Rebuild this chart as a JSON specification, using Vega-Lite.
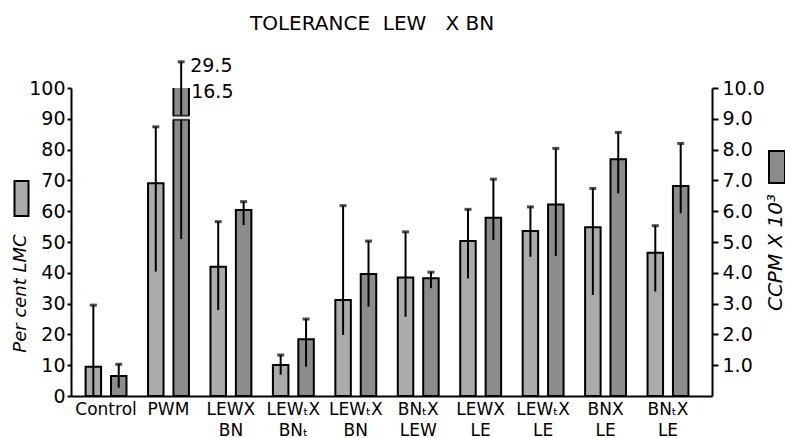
{
  "$schema": "https://vega.github.io/schema/vega-lite/v6.json",
  "width": 641,
  "height": 308,
  "autosize": {"type": "none"},
  "padding": {"left": 71, "top": 88, "right": 73, "bottom": 42},
  "background": "white",
  "title": {"text": "TOLERANCE\u00a0\u00a0LEW\u00a0\u00a0\u00a0X\u00a0BN", "anchor": "start", "frame": "group", "dx": 179, "offset": 23, "font": "DejaVu Sans", "fontSize": 20, "fontWeight": "normal", "color": "black"},
  "config": {
    "view": {"stroke": null},
    "axis": {"grid": false, "domainColor": "black", "domainWidth": 2, "tickColor": "black", "tickWidth": 2, "labelColor": "black", "labelFont": "DejaVu Sans", "labelFontSize": 19, "titleFont": "DejaVu Sans", "titleColor": "black", "titleFontWeight": "normal", "labelOverlap": false, "labelFlush": false}
  },
  "data": {"values": [
    {"g": "Control", "s": "LMC", "v": 9.5, "lo": 0, "hi": 29.5},
    {"g": "PWM", "s": "LMC", "v": 69.1, "lo": 40.4, "hi": 87.4},
    {"g": "LEWX|BN", "s": "LMC", "v": 42.0, "lo": 27.9, "hi": 56.6},
    {"g": "LEWₜX|BNₜ", "s": "LMC", "v": 10.1, "lo": 6.9, "hi": 13.3},
    {"g": "LEWₜX|BN", "s": "LMC", "v": 31.2, "lo": 19.8, "hi": 61.8},
    {"g": "BNₜX|LEW", "s": "LMC", "v": 38.5, "lo": 25.7, "hi": 53.3},
    {"g": "LEWX|LE", "s": "LMC", "v": 50.3, "lo": 38.2, "hi": 60.6},
    {"g": "LEWₜX|LE", "s": "LMC", "v": 53.6, "lo": 45.2, "hi": 61.4},
    {"g": "BNX|LE", "s": "LMC", "v": 54.8, "lo": 32.8, "hi": 67.4},
    {"g": "BNₜX|LE", "s": "LMC", "v": 46.5, "lo": 33.9, "hi": 55.3},
    {"g": "Control", "s": "CCPM", "v": 0.65, "lo": 0.27, "hi": 1.03},
    {"g": "PWM", "s": "CCPM", "v": 16.5, "lo": 5.1, "hi": 29.5},
    {"g": "LEWX|BN", "s": "CCPM", "v": 6.04, "lo": 5.55, "hi": 6.31},
    {"g": "LEWₜX|BNₜ", "s": "CCPM", "v": 1.84, "lo": 0.95, "hi": 2.5},
    {"g": "LEWₜX|BN", "s": "CCPM", "v": 3.96, "lo": 2.9, "hi": 5.03},
    {"g": "BNₜX|LEW", "s": "CCPM", "v": 3.82, "lo": 3.5, "hi": 4.02},
    {"g": "LEWX|LE", "s": "CCPM", "v": 5.79, "lo": 5.06, "hi": 7.04},
    {"g": "LEWₜX|LE", "s": "CCPM", "v": 6.22, "lo": 4.55, "hi": 8.04},
    {"g": "BNX|LE", "s": "CCPM", "v": 7.69, "lo": 6.58, "hi": 8.56},
    {"g": "BNₜX|LE", "s": "CCPM", "v": 6.82, "lo": 5.93, "hi": 8.2}
  ]},
  "encoding": {
    "x": {"field": "g", "type": "nominal", "sort": null,
      "scale": {"domain": ["Control", "PWM", "LEWX|BN", "LEWₜX|BNₜ", "LEWₜX|BN", "BNₜX|LEW", "LEWX|LE", "LEWₜX|LE", "BNX|LE", "BNₜX|LE"], "paddingInner": 0, "paddingOuter": 0.133, "align": 0.23},
      "axis": {"title": null, "labelAngle": 0, "ticks": false, "labelFontSize": 17, "labelExpr": "split(datum.label, '|')", "labelLineHeight": 21, "labelBaseline": "top", "labelPadding": 5}},
    "xOffset": {"field": "s", "type": "nominal", "scale": {"domain": ["LMC", "CCPM"], "paddingInner": 0.39, "paddingOuter": 0.424}}
  },
  "layer": [
    {"transform": [{"filter": "datum.s === 'LMC'"}],
     "mark": {"type": "bar", "stroke": "black", "strokeWidth": 2},
     "encoding": {
       "y": {"field": "v", "type": "quantitative", "scale": {"domain": [0, 100], "nice": false},
         "axis": {"orient": "left", "values": [0,10,20,30,40,50,60,70,80,90,100], "tickSize": 4, "labelPadding": 2, "title": "Per cent LMC", "titleFontStyle": "italic", "titleFontSize": 18, "titleAngle": -90, "titleX": -51, "titleY": 205, "titleAlign": "center", "titleBaseline": "middle"}},
       "fill": {"field": "s", "type": "nominal", "scale": {"domain": ["LMC"], "range": ["#ababab"]},
         "legend": {"orient": "none", "legendX": -68, "legendY": 92, "title": null, "labelExpr": "''", "symbolType": "M-0.4,-1H0.4V1H-0.4Z", "symbolSize": 1225, "symbolStrokeColor": "black", "symbolStrokeWidth": 2, "symbolOpacity": 1, "padding": 0}}
     }},
    {"transform": [{"filter": "datum.s === 'LMC'"}],
     "mark": {"type": "rule", "strokeWidth": 2, "color": "black"},
     "encoding": {"y": {"field": "lo", "type": "quantitative", "scale": {"domain": [0, 100], "nice": false}, "axis": null}, "y2": {"field": "hi"}}},
    {"transform": [{"filter": "datum.s === 'LMC'"}],
     "mark": {"type": "tick", "thickness": 3, "size": 7, "color": "black"},
     "encoding": {"y": {"field": "hi", "type": "quantitative", "scale": {"domain": [0, 100], "nice": false}, "axis": null}}},
    {"transform": [{"filter": "datum.s === 'CCPM'"}],
     "mark": {"type": "bar", "stroke": "black", "strokeWidth": 2, "clip": true},
     "encoding": {
       "y": {"field": "v", "type": "quantitative", "scale": {"domain": [0, 10], "nice": false},
         "axis": {"orient": "right", "values": [1,2,3,4,5,6,7,8,9,10], "format": ".1f", "tickSize": 6, "labelPadding": 4, "title": "CCPM X 10³", "titleFontStyle": "italic", "titleFontSize": 20, "titleAngle": -90, "titleX": 63, "titleY": 164, "titleAlign": "center", "titleBaseline": "middle"}},
       "fill": {"field": "s", "type": "nominal", "scale": {"domain": ["CCPM"], "range": ["#8c8c8c"]},
         "legend": {"orient": "none", "legendX": 689, "legendY": 62, "title": null, "labelExpr": "''", "symbolType": "M-0.5,-1H0.5V1H-0.5Z", "symbolSize": 1024, "symbolStrokeColor": "black", "symbolStrokeWidth": 2, "symbolOpacity": 1, "padding": 0}}
     }},
    {"transform": [{"filter": "datum.s === 'CCPM'"}],
     "mark": {"type": "rule", "strokeWidth": 2, "color": "black", "clip": true},
     "encoding": {"y": {"field": "lo", "type": "quantitative", "scale": {"domain": [0, 10], "nice": false}, "axis": null}, "y2": {"field": "hi"}}},
    {"transform": [{"filter": "datum.s === 'CCPM'"}],
     "mark": {"type": "tick", "thickness": 3, "size": 7, "color": "black", "clip": true},
     "encoding": {"y": {"field": "hi", "type": "quantitative", "scale": {"domain": [0, 10], "nice": false}, "axis": null}}},
    {"data": {"values": [{"k": 1}]},
     "mark": {"type": "bar", "color": "white", "width": 22},
     "encoding": {"x": {"datum": "PWM"}, "xOffset": {"datum": "CCPM"}, "y": {"datum": 8.97, "scale": {"domain": [0, 10], "nice": false}, "axis": null}, "y2": {"datum": 9.1}}},
    {"data": {"values": [{"k": 1}]},
     "mark": {"type": "tick", "thickness": 2, "size": 17, "color": "black"},
     "encoding": {"x": {"datum": "PWM"}, "xOffset": {"datum": "CCPM"}, "y": {"datum": 8.97, "scale": {"domain": [0, 10], "nice": false}, "axis": null}}},
    {"data": {"values": [{"k": 1}]},
     "mark": {"type": "tick", "thickness": 2, "size": 17, "color": "black"},
     "encoding": {"x": {"datum": "PWM"}, "xOffset": {"datum": "CCPM"}, "y": {"datum": 9.1, "scale": {"domain": [0, 10], "nice": false}, "axis": null}}},
    {"data": {"values": [{"k": 1}]},
     "mark": {"type": "rule", "strokeWidth": 2, "color": "black"},
     "encoding": {"x": {"datum": "PWM"}, "xOffset": {"datum": "CCPM"}, "y": {"datum": 10, "scale": {"domain": [0, 10], "nice": false}, "axis": null}, "y2": {"datum": 10.85}}},
    {"data": {"values": [{"k": 1}]},
     "mark": {"type": "tick", "thickness": 3, "size": 7, "color": "black"},
     "encoding": {"x": {"datum": "PWM"}, "xOffset": {"datum": "CCPM"}, "y": {"datum": 10.85, "scale": {"domain": [0, 10], "nice": false}, "axis": null}}},
    {"data": {"values": [{"label": "29.5"}]},
     "mark": {"type": "text", "align": "left", "baseline": "middle", "dx": 9, "font": "DejaVu Sans", "fontSize": 19, "color": "black"},
     "encoding": {"x": {"datum": "PWM"}, "xOffset": {"datum": "CCPM"}, "y": {"datum": 10.71, "scale": {"domain": [0, 10], "nice": false}, "axis": null}, "text": {"field": "label"}}},
    {"data": {"values": [{"label": "16.5"}]},
     "mark": {"type": "text", "align": "left", "baseline": "middle", "dx": 10, "font": "DejaVu Sans", "fontSize": 19, "color": "black"},
     "encoding": {"x": {"datum": "PWM"}, "xOffset": {"datum": "CCPM"}, "y": {"datum": 9.87, "scale": {"domain": [0, 10], "nice": false}, "axis": null}, "text": {"field": "label"}}}
  ],
  "resolve": {"scale": {"y": "independent", "fill": "independent"}, "legend": {"fill": "independent"}}
}
